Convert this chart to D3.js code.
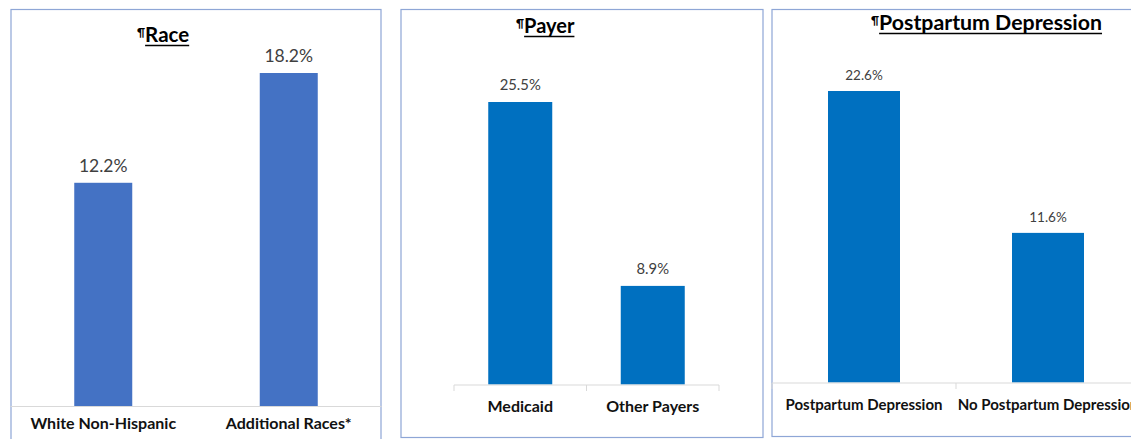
<!DOCTYPE html>
<html>
<head>
<meta charset="utf-8">
<script src="https://cdn.jsdelivr.net/npm/d3@7"></script>
<style>
  html, body { margin: 0; padding: 0; background: #ffffff; }
  svg { display: block; }
  text { font-family: Lato, "Open Sans", "Liberation Sans", sans-serif; }
</style>
</head>
<body>
<svg id="chart" width="1131" height="439"></svg>
<script>
// ---- data ----
const raceCategories = ["White Non-Hispanic", "Additional Races*"];
const raceValues = [12.2, 18.2];

const payerCategories = ["Medicaid", "Other Payers"];
const payerValues = [25.5, 8.9];

const ppdCategories = ["Postpartum Depression", "No Postpartum Depression"];
const ppdValues = [22.6, 11.6];

const panelTitles = ["Race", "Payer", "Postpartum Depression"];

// ---- layout per panel ----
const panels = [
  {
    title: panelTitles[0], cats: raceCategories, vals: raceValues,
    box: [11, 9.5, 381, 460], axisX: [10.5, 381.5], axisY: 406, topY: 73,
    barW: 58, color: "#4472C4", ticks: false,
    titleX: 137, titleY: 42, titleSize: 20.5, pilSize: 11,
    valSize: 17.5, valGap: 11, catY: 429, catSize: 16
  },
  {
    title: panelTitles[1], cats: payerCategories, vals: payerValues,
    box: [401, 9.5, 763, 437.5], axisX: [454, 719], axisY: 384.5, topY: 102,
    barW: 64, color: "#0070C0", ticks: true,
    titleX: 516, titleY: 33, titleSize: 20, pilSize: 11,
    valSize: 14.8, valGap: 12, catY: 412, catSize: 16
  },
  {
    title: panelTitles[2], cats: ppdCategories, vals: ppdValues,
    box: [772, 9.5, 1160, 436.5], axisX: [772, 1140], axisY: 382.5, topY: 91,
    barW: 72, color: "#0070C0", ticks: true,
    titleX: 871, titleY: 30, titleSize: 21.3, pilSize: 11,
    valSize: 13.5, valGap: 11, catY: 410, catSize: 15
  }
];

const svg = d3.select("#chart");

panels.forEach(p => {
  const g = svg.append("g");

  // panel frame
  g.append("rect")
    .attr("x", p.box[0]).attr("y", p.box[1])
    .attr("width", p.box[2] - p.box[0]).attr("height", p.box[3] - p.box[1])
    .attr("fill", "#ffffff")
    .attr("stroke", "#8EA6D6").attr("stroke-width", 1.2);

  const x = d3.scaleBand().domain(p.cats).range(p.axisX).padding(0);
  const y = d3.scaleLinear().domain([0, d3.max(p.vals)]).range([p.axisY, p.topY]);

  // bars
  g.selectAll("rect.bar").data(p.cats).join("rect")
    .attr("class", "bar")
    .attr("x", d => x(d) + (x.bandwidth() - p.barW) / 2)
    .attr("width", p.barW)
    .attr("y", (d, i) => y(p.vals[i]))
    .attr("height", (d, i) => y(0) - y(p.vals[i]))
    .attr("fill", p.color);

  // category axis
  const axis = d3.axisBottom(x).tickSize(p.ticks ? 6 : 0).tickFormat("");
  const ag = g.append("g").attr("transform", `translate(0,${p.axisY})`).call(axis);
  ag.select(".domain").attr("stroke", "#D9D9D9").attr("stroke-width", 1)
    .attr("d", `M${p.axisX[0]},0.5H${p.axisX[1]}`);
  ag.selectAll(".tick").remove();
  if (p.ticks) {
    const edges = [p.axisX[0]].concat(p.cats.map(c => x(c) + x.bandwidth()));
    ag.selectAll("line.edge").data(edges).join("line")
      .attr("class", "edge")
      .attr("x1", d => d).attr("x2", d => d)
      .attr("y1", 0.5).attr("y2", 6.5)
      .attr("stroke", "#D9D9D9");
  }

  // category labels
  g.selectAll("text.cat").data(p.cats).join("text")
    .attr("class", "cat")
    .attr("x", d => x(d) + x.bandwidth() / 2)
    .attr("y", p.catY)
    .attr("text-anchor", "middle")
    .attr("font-size", p.catSize)
    .attr("font-weight", 700)
    .attr("fill", "#111111")
    .text(d => d);

  // value labels
  g.selectAll("text.val").data(p.cats).join("text")
    .attr("class", "val")
    .attr("x", d => x(d) + x.bandwidth() / 2)
    .attr("y", (d, i) => y(p.vals[i]) - p.valGap)
    .attr("text-anchor", "middle")
    .attr("font-size", p.valSize)
    .attr("fill", "#404040")
    .text((d, i) => d3.format(".1f")(p.vals[i]) + "%");

  // title with pilcrow and underline
  const t = g.append("text")
    .attr("x", p.titleX).attr("y", p.titleY)
    .attr("fill", "#000000");
  t.append("tspan")
    .attr("font-size", p.pilSize).attr("font-weight", 700)
    .attr("dy", -6)
    .text("\u00B6");
  const main = t.append("tspan")
    .attr("font-size", p.titleSize).attr("font-weight", 700)
    .attr("dy", 6)
    .text(p.title);
  const bb = main.node().getBBox();
  g.append("line")
    .attr("x1", bb.x).attr("x2", bb.x + main.node().getComputedTextLength())
    .attr("y1", p.titleY + 3.5).attr("y2", p.titleY + 3.5)
    .attr("stroke", "#000000").attr("stroke-width", 1.4);
});
</script>
</body>
</html>
